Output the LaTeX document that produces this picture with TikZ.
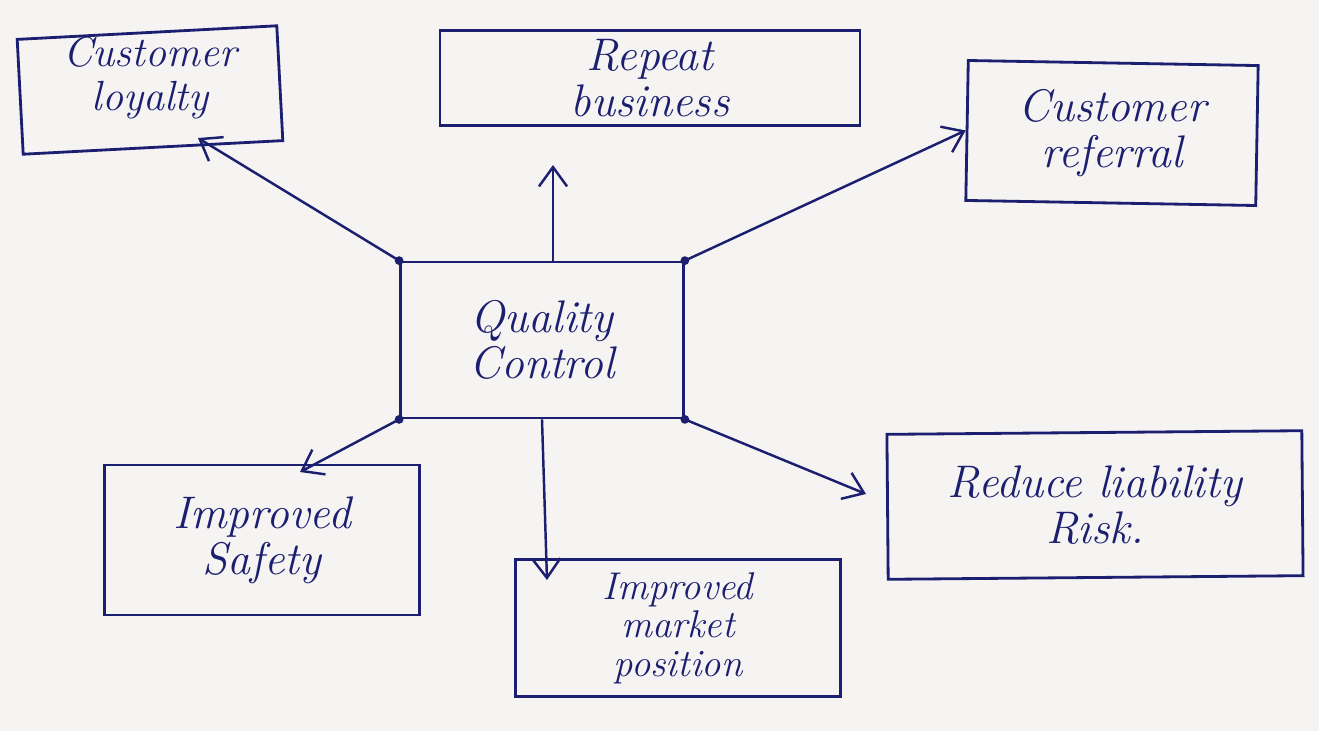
\documentclass[tikz,border=0pt]{standalone}
\usetikzlibrary{arrows.meta}
\definecolor{ink}{RGB}{28,30,112}
\definecolor{paper}{RGB}{245,244,242}
\begin{document}
\begin{tikzpicture}[x=0.02cm,y=-0.02cm,
  lbl/.style={inner sep=0pt, align=center, text=ink,
    font=\fontsize{26}{26}\selectfont\itshape},
  box/.style={lbl, draw=ink, line width=1.6pt},
  arr/.style={draw=ink, line width=1.4pt, -{Straight Barb[length=11pt,width=16pt]}},
  dot/.style={circle, fill=ink, inner sep=0pt, minimum size=5pt}]
% sheet of paper
\fill[paper] (0,0) rectangle (1319,731);
\useasboundingbox (0,0) rectangle (1319,731);

% boxes
\node[box, minimum width=5.2cm, minimum height=2.3cm, rotate=3] (loyal) at (150,90) {};
\node[lbl, font=\fontsize{24}{25}\selectfont\itshape] (loyaltxt) at (150,78) {Customer\\loyalty};
\node[box, minimum width=8.4cm, minimum height=1.9cm] (repeat) at (650,78) {Repeat\\business};
\node[box, minimum width=5.8cm, minimum height=2.8cm, rotate=-1] (referral) at (1112,133) {};
\node[lbl] (referraltxt) at (1112,133) {Customer\\referral};
\node[box, minimum width=5.66cm, minimum height=3.12cm] (qc) at (542,340) {Quality\\Control};
\node[box, minimum width=6.3cm, minimum height=3.0cm] (safety) at (262,540) {Improved\\Safety};
\node[box, minimum width=6.5cm, minimum height=2.75cm, font=\fontsize{22}{22}\selectfont\itshape] (market) at (678,628) {Improved\\market\\position};
\node[box, minimum width=8.3cm, minimum height=2.9cm, rotate=0.5] (risk) at (1095,505) {};
\node[lbl] (risktxt) at (1095,505) {Reduce liability\\Risk.};

% corner dots of the centre box
\foreach \c in {north west,north east,south west,south east}
  \node[dot] at (qc.\c) {};

% arrow tips that stop short of or inside their boxes
\coordinate (tL) at (198,138);
\coordinate (tR) at (553,165);
\coordinate (tS) at (300,472);
\coordinate (tM) at (547,580);
\coordinate (tK) at (866,494);

% connectors
\draw[arr] (qc.north west) -- (tL);
\draw[arr] (qc.north -| tR) -- (tR);
\draw[arr] (qc.north east) -- (referral.west);
\draw[arr] (qc.south west) -- (tS);
\draw[arr] (qc.south) -- (tM);
\draw[arr] (qc.south east) -- (tK);
\end{tikzpicture}
\end{document}
